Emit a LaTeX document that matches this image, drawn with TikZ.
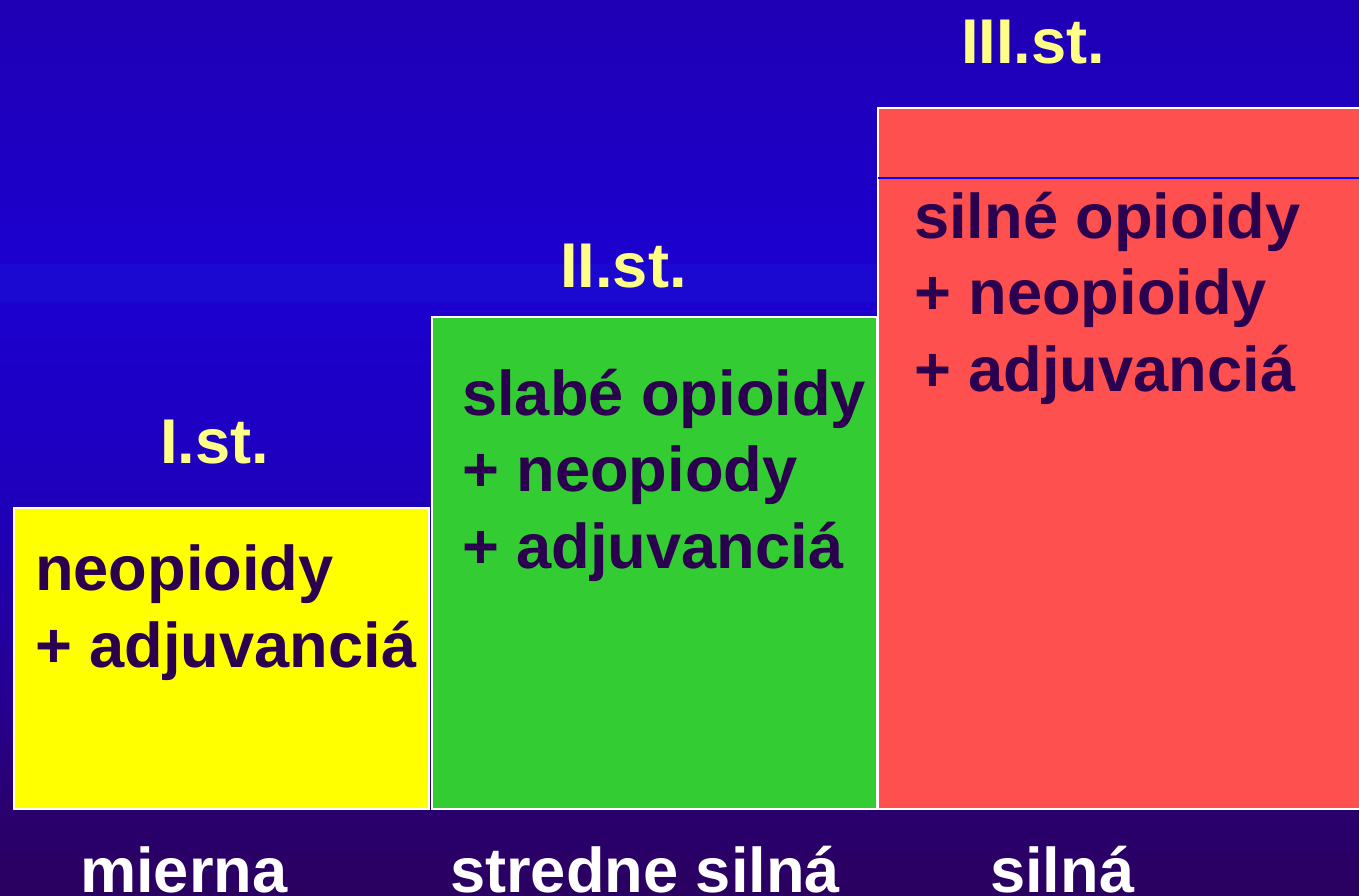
\documentclass[tikz,border=0pt]{standalone}
\usepackage{fontspec}
\setmainfont{Liberation Sans}
\usetikzlibrary{positioning}

\definecolor{bgA}{HTML}{2000B4}
\definecolor{bgB}{HTML}{1C00CE}
\definecolor{bgBand}{HTML}{1B09D1}
\definecolor{bgC}{HTML}{1E00BC}
\definecolor{bgD}{HTML}{250090}
\definecolor{bgE}{HTML}{29006E}
\definecolor{bgF}{HTML}{2A0060}
\definecolor{stepyellow}{HTML}{FFFF00}
\definecolor{stepgreen}{HTML}{33CC33}
\definecolor{stepred}{HTML}{FF5050}
\definecolor{inktext}{HTML}{2A004F}
\definecolor{labelyellow}{HTML}{FFFF88}
\definecolor{divline}{HTML}{0000FF}

% background: deep blue fading to dark violet towards the bottom
\pgfdeclareverticalshading{bgshade}{100bp}{%
  color(0bp)=(bgF);
  color(25bp)=(bgF);
  color(29.75bp)=(bgE);
  color(35.9bp)=(bgD);
  color(47.2bp)=(bgC);
  color(58.1bp)=(bgB);
  color(58.2bp)=(bgBand);
  color(60.2bp)=(bgBand);
  color(60.3bp)=(bgB);
  color(75bp)=(bgA);
  color(100bp)=(bgA)}

\tikzset{
  stepbox/.style={draw=white, line width=2pt, anchor=north west, inner sep=0pt},
  % multi-line texts are placed by the baseline of their last line
  boxtext/.style={anchor=base west, inner sep=0pt, align=left, text=inktext,
    font=\fontsize{63.2}{76.5}\selectfont\bfseries},
  steplabel/.style={anchor=base west, inner sep=0pt, text=labelyellow,
    font=\fontsize{63.2}{76}\selectfont\bfseries},
  axislabel/.style={anchor=base west, inner sep=0pt, text=white,
    font=\fontsize{63.2}{76}\selectfont\bfseries},
}

\begin{document}
\begin{tikzpicture}[x=1pt, y=-1pt]
  \useasboundingbox (0,0) rectangle (1359,895);
  \fill[shading=bgshade] (0,0) rectangle (1359,895);

  % the three steps
  \node[stepbox, fill=stepyellow, minimum width=415pt, minimum height=301pt] (s1) at (13,507) {};
  \node[stepbox, fill=stepgreen,  minimum width=445pt, minimum height=492pt] (s2) at (431,316) {};
  \node[stepbox, fill=stepred,    minimum width=500pt, minimum height=701pt] (s3) at (877,107) {};
  \coordinate (divL) at (878,178);
  \coordinate (divR) at (1359,178);
  \draw[divline, line width=1.2pt] (divL) -- (divR);

  % step titles
  \node[steplabel] (t1) at (160,463) {I.st.};
  \node[steplabel] (t2) at (560,287) {II.st.};
  \node[steplabel] (t3) at (961,63)  {III.st.};

  % contents of the steps
  \node[boxtext] (c1) at (35,667)  {neopioidy\\+ adjuvanciá};
  \node[boxtext] (c2) at (462,568) {slabé opioidy\\+ neopiody\\+ adjuvanciá};
  \node[boxtext] (c3) at (914,391) {silné opioidy\\+ neopioidy\\+ adjuvanciá};

  % pain intensity
  \node[axislabel] (a1) at (80,892)  {mierna};
  \node[axislabel] (a2) at (450,892) {stredne silná};
  \node[axislabel] (a3) at (990,892) {silná};
\end{tikzpicture}
\end{document}
